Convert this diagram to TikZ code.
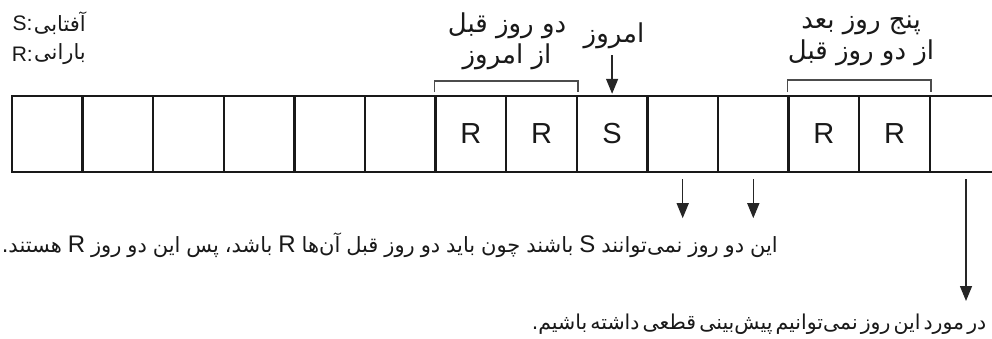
\documentclass[tikz,border=0pt]{standalone}
\usepackage{fontspec}
\setmainfont{Liberation Sans}
\newfontfamily\fa[Script=Arabic]{DejaVu Sans}
\TeXXeTstate=1
\usetikzlibrary{arrows.meta}
\newcommand\latR[1]{{\normalfont\fontsize{24}{24}\selectfont #1}}
\begin{document}
\begin{tikzpicture}[x=1pt,y=-1pt,
  cell/.style={draw=black!90,line width=2.4pt,minimum width=70.6pt,minimum height=76pt,inner sep=0pt},
  letter/.style={font=\fontsize{29}{30}\selectfont,text=black!90},
  bracket/.style={draw=black!70,line width=1.3pt},
  arr/.style={draw=black!85,line width=1.4pt,-{Triangle[length=15pt,width=12pt]}},
  fatext/.style={inner sep=0pt,font=\fa\fontsize{22}{31}\selectfont,text=black!90},
  legl/.style={inner sep=0pt,font=\fontsize{21}{21}\selectfont,text=black!90}]
\useasboundingbox (0,0) rectangle (992,338);
\foreach \i in {1,...,14}{
  \node[cell] (c\i) at ({12+70.6*(\i-0.5)},134) {};
}
\node[letter] (l7) at (c7) {R};
\node[letter] (l8) at (c8) {R};
\node[letter] (l9) at (c9) {S};
\node[letter] (l12) at (c12) {R};
\node[letter] (l13) at (c13) {R};

% legend
\node[fatext,font=\fa\fontsize{21}{31}\selectfont,anchor=east] (leg1) at (86,23) {\beginR آفتابی\endR};
\node[legl,anchor=east] (k1) at ([xshift=-1pt]leg1.west) {S:};
\node[fatext,font=\fa\fontsize{21}{31}\selectfont,anchor=east] (leg2) at (86,54) {\beginR بارانی\endR};
\node[legl,anchor=east] (k2) at ([xshift=-1pt]leg2.west) {R:};

% top labels
\node[fatext,font=\fa\fontsize{26}{31}\selectfont,align=center] (t1) at (507,41) {\beginR دو روز قبل\endR\\\beginR از امروز\endR};
\node[fatext,font=\fa\fontsize{26}{31}\selectfont] (t2) at (614,36) {\beginR امروز\endR};
\node[fatext,font=\fa\fontsize{26}{31}\selectfont,align=center] (t3) at (861,41) {\beginR پنج روز بعد\endR\\\beginR از دو روز قبل\endR};

% brackets
\draw[bracket] (c7.north west |- 0,92) -- (c7.north west |- 0,81) -- (c8.north east |- 0,81) -- (c8.north east |- 0,92);
\draw[bracket] (c12.north west |- 0,92) -- (c12.north west |- 0,80) -- (c13.north east |- 0,80) -- (c13.north east |- 0,92);

% today arrow
\coordinate (a0) at (c9.north |- 0,55);
\draw[arr] (a0) -- ([yshift=1pt]c9.north);

% bottom arrows
\coordinate (s10) at ([yshift=-6pt]c10.south);
\coordinate (e10) at ([yshift=-45pt]c10.south);
\coordinate (s11) at ([yshift=-6pt]c11.south);
\coordinate (e11) at ([yshift=-45pt]c11.south);
\coordinate (s14) at ([yshift=-6pt]c14.south -| 966,0);
\coordinate (e14) at (966,301);
\draw[arr] (s10) -- (e10);
\draw[arr] (s11) -- (e11);
\draw[arr] (s14) -- (e14);

% explanations
\node[fatext,font=\fa\fontsize{21}{31}\selectfont,anchor=east] (m) at (778,245) {\spaceskip=0.3em plus 1fil minus 0.15em\hbox to 776pt{\beginR این دو روز نمی^^^^200cتوانند \latR{S} باشند چون باید دو روز قبل آن^^^^200cها \latR{R} باشد، پس این دو روز \latR{R} هستند.\endR}};
\node[fatext,font=\fa\fontsize{20.5}{31}\selectfont,anchor=east] (b) at (978,324) {\spaceskip=0.3em plus 1fil minus 0.15em\hbox to 446pt{\beginR در مورد این روز نمی^^^^200cتوانیم پیش^^^^200cبینی قطعی داشته باشیم.\endR}};
\end{tikzpicture}
\end{document}
